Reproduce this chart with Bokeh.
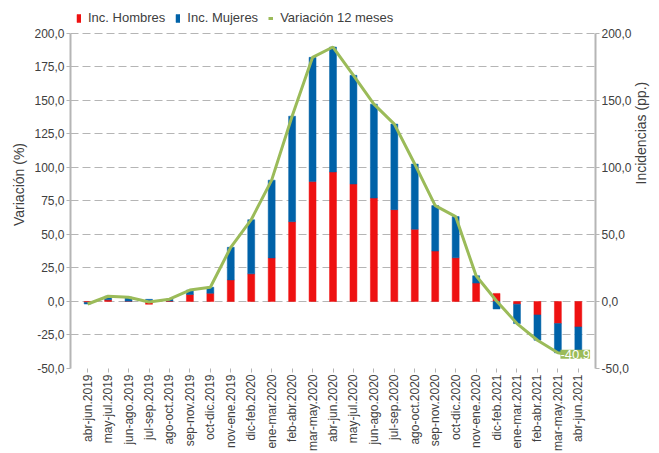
import math
import numpy as np
from bokeh.plotting import figure
from bokeh.models import (Range1d, LinearAxis, FixedTicker, Legend, LegendItem,
                          Label, ColumnDataSource, FactorRange)
from bokeh.embed import file_html
from bokeh.resources import INLINE

categories = ["abr-jun.2019", "may-jul.2019", "jun-ago.2019", "jul-sep.2019",
              "ago-oct.2019", "sep-nov.2019", "oct-dic.2019", "nov-ene.2019",
              "dic-feb.2020", "ene-mar.2020", "feb-abr.2020", "mar-may.2020",
              "abr-jun.2020", "may-jul.2020", "jun-ago.2020", "jul-sep.2020",
              "ago-oct.2020", "sep-nov.2020", "oct-dic.2020", "nov-ene.2020",
              "dic-feb.2021", "ene-mar.2021", "feb-abr.2021", "mar-may.2021",
              "abr-jun.2021"]

inc_hombres = [-0.7, 1.2, 0.2, -2.1, 0.3, 5.2, 6.1, 16.1, 20.6, 32.5, 59.5, 89.4,
               96.6, 87.6, 77.2, 68.5, 53.9, 37.6, 32.6, 13.7, 6.0, -2.0, -10.0,
               -16.5, -19.0]
inc_mujeres = [-1.2, 2.7, 3.0, 1.6, 1.4, 3.3, 4.5, 24.3, 40.4, 58.0, 78.7, 92.7,
               93.2, 81.1, 70.0, 63.8, 48.6, 33.9, 30.7, 5.5, -5.6, -14.5, -18.9,
               -21.8, -21.9]
variacion_12m = [-1.9, 3.9, 3.2, -0.4, 1.7, 8.5, 10.6, 40.4, 61.0, 90.5, 138.2,
                 182.1, 189.8, 168.7, 147.2, 132.3, 102.5, 71.5, 63.3, 19.2, 0.4,
                 -16.5, -28.9, -38.3, -40.9]

left_ticks = [-50, -25, 0, 25, 50, 75, 100, 125, 150, 175, 200]
right_ticks = [-50, 0, 50, 100, 150, 200]

RED = "#EE1111"
BLUE = "#0062A8"
GREEN = "#9BBB59"
TXT = "#404040"
AXC = "#B5B5B5"
FONT = "Liberation Sans"

h = np.array(inc_hombres)
m = np.array(inc_mujeres)
h_bottom = np.zeros_like(h)
h_top = h
same = np.sign(h) == np.sign(m)
m_bottom = np.where(same, h, 0.0)
m_top = m_bottom + m

src = ColumnDataSource(dict(cat=categories, hb=h_bottom, ht=h_top,
                            mb=m_bottom, mt=m_top, v=variacion_12m))

def fmt(t):
    return f"{t:.1f}".replace(".", ",")

# frame extends above 200 so that the legend can sit at the top
Y_MIN, Y_MAX, Y_TOP = -50, 200, 224.5

p = figure(x_range=FactorRange(factors=categories, range_padding=0.34,
                               range_padding_units="absolute"),
           y_range=Range1d(Y_MIN, Y_TOP), width=659, height=453,
           output_backend="svg", toolbar_location=None,
           min_border_left=70, min_border_right=63, min_border_top=0,
           min_border_bottom=84, background_fill_color="white",
           border_fill_color="white", outline_line_color=None)
p.extra_y_ranges = {"right": Range1d(Y_MIN, Y_TOP)}

r_h = p.vbar(x="cat", bottom="hb", top="ht", width=0.34, source=src,
             fill_color=RED, line_color=RED, line_width=0.5)
r_m = p.vbar(x="cat", bottom="mb", top="mt", width=0.34, source=src,
             fill_color=BLUE, line_color=BLUE, line_width=0.5)
r_v = p.line(x="cat", y="v", source=src, line_color=GREEN, line_width=3)

# left axis
ya = p.yaxis[0]
ya.bounds = (Y_MIN, Y_MAX)
ya.ticker = FixedTicker(ticks=left_ticks)
ya.major_label_overrides = {t: fmt(t) for t in left_ticks}
ya.axis_label = "Variación (%)"
ya.minor_tick_line_color = None
ya.axis_line_color = AXC
ya.axis_line_width = 2
ya.major_tick_line_color = AXC
ya.major_tick_out = 4
ya.major_tick_in = 0
ya.major_label_standoff = 2
ya.major_label_text_font = FONT
ya.major_label_text_font_size = "12px"
ya.major_label_text_color = TXT
ya.axis_label_text_font = FONT
ya.axis_label_text_font_size = "14px"
ya.axis_label_text_font_style = "normal"
ya.axis_label_text_color = TXT
ya.axis_label_standoff = 4

# right axis
yr = LinearAxis(y_range_name="right", ticker=FixedTicker(ticks=right_ticks))
yr.bounds = (Y_MIN, Y_MAX)
yr.major_label_overrides = {t: fmt(t) for t in right_ticks}
yr.axis_label = "Incidencias (pp.)"
yr.minor_tick_line_color = None
yr.axis_line_color = AXC
yr.axis_line_width = 2
yr.major_tick_line_color = AXC
yr.major_tick_out = 4
yr.major_tick_in = 0
yr.major_label_standoff = 2
yr.major_label_text_font = FONT
yr.major_label_text_font_size = "12px"
yr.major_label_text_color = TXT
yr.axis_label_text_font = FONT
yr.axis_label_text_font_size = "14px"
yr.axis_label_text_font_style = "normal"
yr.axis_label_text_color = TXT
yr.axis_label_standoff = 6
try:
    yr.axis_label_orientation = math.pi / 2
except Exception:
    pass
p.add_layout(yr, "right")

# x axis
xa = p.xaxis[0]
xa.major_label_orientation = math.pi / 2
xa.axis_line_color = None
xa.major_tick_line_color = AXC
xa.major_tick_out = 4
xa.major_tick_in = 0
xa.major_label_text_font = FONT
xa.major_label_text_font_size = "12px"
xa.major_label_text_color = TXT
xa.major_label_standoff = 2

p.xgrid.grid_line_color = None
p.ygrid.ticker = FixedTicker(ticks=left_ticks)
p.ygrid.grid_line_color = AXC
p.ygrid.grid_line_dash = "8 4"
p.ygrid.grid_line_width = 1.2

legend = Legend(items=[LegendItem(label="Inc. Hombres", renderers=[r_h]),
                       LegendItem(label="Inc. Mujeres", renderers=[r_m]),
                       LegendItem(label="Variación 12 meses", renderers=[r_v])],
                orientation="horizontal", location="top_left",
                glyph_width=5, glyph_height=10, label_standoff=7, spacing=10,
                label_text_font=FONT, label_text_font_size="13px",
                label_text_color=TXT, border_line_color=None,
                background_fill_alpha=0, margin=0, padding=2,
                label_height=14)
p.add_layout(legend, "center")
legend.location = (6, 343)

lbl = Label(x=24.35, y=-40.9, text=fmt(variacion_12m[-1]), text_align="center",
            text_baseline="middle", text_color="white", text_font=FONT,
            text_font_size="13px", background_fill_color=GREEN, y_offset=2)
p.add_layout(lbl)

open("out.html", "w").write(file_html(p, INLINE))
